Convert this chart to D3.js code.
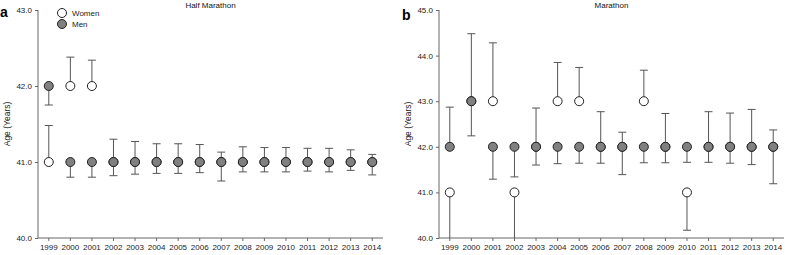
<!DOCTYPE html>
<html>
<head>
<meta charset="utf-8">
<script src="https://cdn.jsdelivr.net/npm/d3@7"></script>
<style>
  body { margin: 0; background: #fff; }
  svg { display: block; font-family: "Liberation Sans", Arial, sans-serif; }
</style>
</head>
<body>
<svg id="chart" width="785" height="255"></svg>
<script>
// years shared by both panels
const years = d3.range(1999, 2015).map(String);

// panel a: Half Marathon
const halfWomen   = [41, 42, 42, 41, 41, 41, 41, 41, 41, 41, 41, 41, 41, 41, 41, 41];
const halfWomenHi = [41.48, 42.38, 42.34, 41.30, 41.27, 41.24, 41.24, 41.23, 41.13, 41.20, 41.19, 41.19, 41.18, 41.18, 41.16, 41.10];
const halfWomenLo = [null, null, null, null, null, null, null, null, null, null, null, null, null, null, null, null];
const halfMen     = [42, 41, 41, 41, 41, 41, 41, 41, 41, 41, 41, 41, 41, 41, 41, 41];
const halfMenHi   = [null, null, null, null, null, null, null, null, null, null, null, null, null, null, null, null];
const halfMenLo   = [41.75, 40.80, 40.80, 40.82, 40.84, 40.85, 40.85, 40.86, 40.75, 40.87, 40.87, 40.87, 40.88, 40.87, 40.89, 40.83];
const halfTicks   = [40, 41, 42, 43];

// panel b: Marathon
const fullWomen   = [41, 43, 43, 41, 42, 43, 43, 42, 42, 43, 42, 41, 42, 42, 42, 42];
const fullWomenHi = [null, 44.48, 44.28, null, 42.85, 43.85, 43.74, 42.77, 42.32, 43.68, 42.73, null, 42.77, 42.74, 42.82, 42.37];
const fullWomenLo = [40.0, null, null, 40.0, null, null, null, null, null, null, null, 40.17, null, null, null, null];
const fullMen     = [42, 43, 42, 42, 42, 42, 42, 42, 42, 42, 42, 42, 42, 42, 42, 42];
const fullMenHi   = [42.87, null, null, null, null, null, null, null, null, null, null, null, null, null, null, null];
const fullMenLo   = [null, 42.24, 41.29, 41.34, 41.60, 41.63, 41.64, 41.64, 41.39, 41.65, 41.65, 41.66, 41.66, 41.64, 41.61, 41.19];
const fullTicks   = [40, 41, 42, 43, 44, 45];

const svg = d3.select("#chart");
const r = 4.5;

function drawPanel(opt) {
    const x = d3.scaleBand().domain(years).range([opt.left, opt.right]);
    const y = d3.scaleLinear().domain(opt.domain).range([238, 10]);
    const g = svg.append("g");

    // axes
    const yAxis = g.append("g")
        .attr("transform", `translate(${opt.left},0)`)
        .call(d3.axisLeft(y).tickValues(opt.ticks).tickFormat(d3.format(".1f")).tickSize(3).tickPadding(3));
    const xAxis = g.append("g")
        .attr("transform", `translate(0,238)`)
        .call(d3.axisBottom(x).tickSize(3).tickPadding(3));
    [yAxis, xAxis].forEach(a => {
        a.select(".domain").attr("stroke", "#666");
        a.selectAll(".tick line").attr("stroke", "#666");
        a.selectAll("text").attr("fill", "#222").style("font-size", "8px");
    });
    xAxis.select(".domain").attr("d", `M${opt.left},0H${opt.right}`);
    yAxis.select(".domain").attr("d", `M0,${y(opt.domain[0])}V${y(opt.domain[1])}`);

    // error bars
    const bars = [];
    opt.series.forEach(s => {
        years.forEach((yr, i) => {
            if (s.hi[i] != null) bars.push({yr, from: s.val[i], to: s.hi[i], dir: -1});
            if (s.lo[i] != null) bars.push({yr, from: s.val[i], to: s.lo[i], dir: 1});
        });
    });
    const eb = g.append("g").attr("stroke", "#555").attr("stroke-width", 1);
    eb.selectAll("line.stem").data(bars).join("line")
        .attr("class", "stem")
        .attr("x1", d => x(d.yr) + x.bandwidth() / 2)
        .attr("x2", d => x(d.yr) + x.bandwidth() / 2)
        .attr("y1", d => y(d.from))
        .attr("y2", d => y(d.to));
    eb.selectAll("line.cap").data(bars.filter(d => d.to > opt.domain[0])).join("line")
        .attr("class", "cap")
        .attr("x1", d => x(d.yr) + x.bandwidth() / 2 - 4)
        .attr("x2", d => x(d.yr) + x.bandwidth() / 2 + 4)
        .attr("y1", d => y(d.to))
        .attr("y2", d => y(d.to));

    // points, women under men
    opt.series.forEach(s => {
        g.append("g").selectAll("circle").data(s.val).join("circle")
            .attr("cx", (d, i) => x(years[i]) + x.bandwidth() / 2)
            .attr("cy", d => y(d))
            .attr("r", r)
            .attr("fill", s.fill)
            .attr("stroke", "#222")
            .attr("stroke-width", 1);
    });

    // title, letter, y label
    g.append("text")
        .attr("x", (opt.left + opt.right) / 2).attr("y", 8)
        .attr("text-anchor", "middle")
        .style("font-size", "8px").attr("fill", "#111")
        .text(opt.title);
    g.append("text")
        .attr("x", opt.letterX).attr("y", opt.letterY)
        .style("font-size", "14px").style("font-weight", "bold").attr("fill", "#000")
        .text(opt.letter);
    g.append("text")
        .attr("transform", `translate(${opt.left - 28},124) rotate(-90)`)
        .attr("text-anchor", "middle")
        .style("font-size", "8.5px").attr("fill", "#222")
        .text("Age (Years)");
    return {x, y};
}

drawPanel({
    left: 38, right: 383, domain: [40, 43], ticks: halfTicks,
    title: "Half Marathon", letter: "a", letterX: 0, letterY: 17,
    series: [
        {val: halfWomen, hi: halfWomenHi, lo: halfWomenLo, fill: "#fff"},
        {val: halfMen, hi: halfMenHi, lo: halfMenLo, fill: "#808080"}
    ]
});

drawPanel({
    left: 439, right: 784, domain: [40, 45], ticks: fullTicks,
    title: "Marathon", letter: "b", letterX: 402, letterY: 20,
    series: [
        {val: fullWomen, hi: fullWomenHi, lo: fullWomenLo, fill: "#fff"},
        {val: fullMen, hi: fullMenHi, lo: fullMenLo, fill: "#808080"}
    ]
});

// legend (panel a)
const legendItems = ["Women", "Men"];
const legendFills = ["#fff", "#808080"];
const lg = svg.append("g").attr("transform", "translate(62,13)");
lg.selectAll("circle").data(legendItems).join("circle")
    .attr("cx", 0).attr("cy", (d, i) => i * 11)
    .attr("r", r)
    .attr("fill", (d, i) => legendFills[i])
    .attr("stroke", "#222");
lg.selectAll("text").data(legendItems).join("text")
    .attr("x", 10).attr("y", (d, i) => i * 11 + 3)
    .style("font-size", "8px").attr("fill", "#222")
    .text(d => d);
</script>
</body>
</html>
